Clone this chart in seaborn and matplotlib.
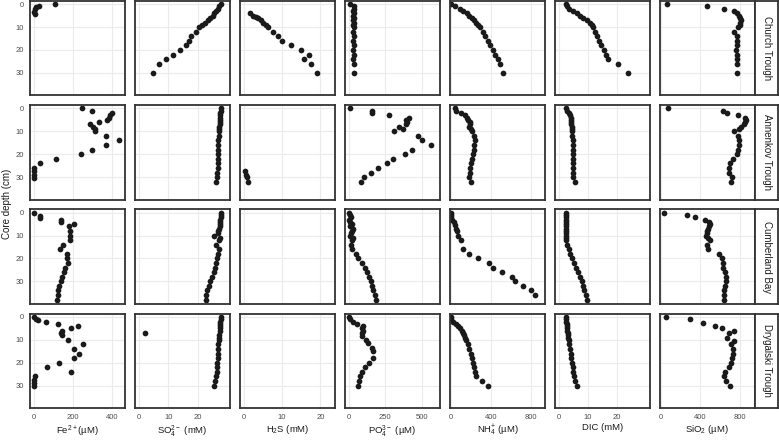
import pandas as pd
import seaborn as sns
import matplotlib.pyplot as plt

sns.set_theme(style='white')
plt.rcParams['font.family'] = ['Liberation Sans', 'DejaVu Sans']
plt.rcParams['mathtext.default'] = 'regular'

# Facet layout
sites = ['Church Trough', 'Annenkov Trough', 'Cumberland Bay', 'Drygalski Trough']
variables = ['Fe', 'SO4', 'H2S', 'PO4', 'NH4', 'DIC', 'SiO2']
x_labels = [r'Fe$^{2+}$(µM)', r'SO$_4^{2-}$ (mM)', r'H$_2$S (mM)', r'PO$_4^{3-}$ (µM)',
            r'NH$_4^{+}$ (µM)', 'DIC (mM)', r'SiO$_2$ (µM)']
x_ticks = [[0, 200, 400], [0, 10, 20], [0, 10, 20], [0, 250, 500],
           [0, 400, 800], [0, 10, 20], [0, 400, 800]]
x_limits = [(-21, 470), (-1.25, 30.9), (-1.05, 23.9), (-27, 625),
            (-11, 938), (-1.5, 31.5), (-10, 955)]

# Church Trough
ct_fe_depth = [0, 0.7, 1.3, 2.2, 3.2, 4.2]
ct_fe = [110, 25, 12, 3, 2, 4]
ct_depth = [0, 1, 2, 3, 4, 5, 6, 7, 8, 9, 10, 12, 14, 16, 18, 20, 22, 24, 26, 30]
ct_so4 = [27.6, 27.1, 26.6, 26.0, 25.4, 24.9, 24.2, 23.4, 22.5, 21.4, 20.3, 19.2,
          17.7, 16.9, 15.9, 14.0, 11.5, 9.3, 7.0, 4.9]
ct_h2s_depth = [4, 5, 5.5, 6, 7, 8, 9, 10, 12, 14, 16, 18, 20, 22, 24, 26, 30]
ct_h2s = [1.6, 2.5, 3.1, 3.8, 4.4, 5.1, 5.7, 6.3, 7.6, 8.8, 10.0, 12.4, 14.9, 17.1,
          15.7, 17.6, 19.0]
ct_po4 = [10, 35, 33, 32, 33, 32, 33, 32, 33, 32, 33, 32, 33, 32, 33, 32, 33, 32, 33, 36]
ct_nh4 = [5, 40, 90, 125, 160, 185, 210, 235, 255, 275, 290, 315, 340, 365, 390,
          415, 440, 465, 490, 515]
ct_dic = [2.4, 2.6, 3.3, 4.8, 6.2, 7.3, 8.4, 9.6, 10.6, 11.3, 11.8, 12.6, 13.3, 14.0,
          14.6, 15.5, 16.3, 17.1, 20.5, 24.0]
ct_sio2 = [60, 470, 640, 740, 770, 790, 805, 810, 805, 800, 780, 745, 770, 775, 770,
           765, 768, 770, 768, 775]

# Annenkov Trough
at_fe_depth = [0, 1, 2, 3, 4, 5, 6, 7, 8, 9, 10, 12, 14, 16, 18, 20, 22, 24, 26,
               27.5, 29, 30.2]
at_fe = [249, 297, 400, 392, 385, 377, 335, 289, 305, 312, 314, 371, 439, 371, 297,
         244, 113, 29, 2, 2, 2, 2]
at_depth = [0, 1, 2, 3, 4, 5, 6, 7, 8, 9, 10, 12, 14, 16, 18, 20, 22, 24, 26, 28, 30, 32]
at_so4 = [27.6, 27.6, 27.5, 27.5, 27.4, 27.4, 27.3, 27.3, 27.2, 27.2, 27.1, 27.0,
          26.9, 26.8, 26.8, 26.7, 26.7, 26.6, 26.6, 26.5, 26.4, 26.2]
at_h2s_depth = [27.5, 29, 30, 32]
at_h2s = [0.4, 0.6, 0.8, 1.0]
at_po4 = [10, 157, 160, 273, 410, 390, 400, 393, 343, 373, 307, 473, 500, 560, 433,
          387, 300, 260, 200, 150, 107, 87]
at_nh4 = [40, 50, 105, 140, 165, 175, 190, 190, 180, 200, 215, 230, 240, 235, 230,
          225, 215, 200, 190, 190, 180, 200]
at_dic = [2.4, 2.9, 3.4, 3.7, 4.0, 4.2, 4.2, 4.3, 4.4, 4.4, 4.5, 4.6, 4.7, 4.9, 4.9,
          5.0, 5.0, 5.0, 5.0, 4.9, 5.0, 5.7]
at_sio2 = [75, 635, 675, 785, 850, 860, 850, 840, 815, 790, 740, 785, 790, 790, 785,
           775, 735, 700, 690, 690, 725, 710]

# Cumberland Bay
cb_fe_depth = [0, 1.5, 2.5, 3, 4, 5, 6, 8, 10, 12, 14, 16, 18, 20, 22, 24, 26, 28,
               30, 32, 34, 36, 38]
cb_fe = [0, 29, 32, 140, 140, 203, 178, 186, 186, 186, 149, 135, 169, 169, 177, 160,
         152, 144, 138, 128, 122, 121, 120]
cb_depth = [0, 1, 2, 3, 4, 5, 6, 7, 8, 9, 10, 11, 12, 14, 16, 18, 20, 22, 24, 26, 28,
            30, 32, 34, 36, 38]
cb_so4 = [27.6, 27.6, 27.6, 27.5, 27.5, 27.4, 27.3, 27.1, 26.8, 26.6, 25.4, 27.4,
          27.0, 26.2, 27.0, 26.7, 26.3, 26.0, 25.7, 25.3, 24.8, 24.2, 23.6, 23.1,
          22.8, 22.6]
cb_po4 = [3, 8, 18, 3, 10, 24, 10, 27, 20, 15, 10, 27, 22, 18, 25, 50, 62, 88, 108,
          125, 137, 150, 160, 168, 178, 188]
cb_nh4_depth = [0, 1, 2, 3, 4, 5.5, 7, 8, 10, 12, 16, 18, 20, 22, 24, 26, 28, 30, 32,
                34, 36]
cb_nh4 = [0, 3, 5, 15, 30, 40, 55, 65, 75, 105, 125, 180, 275, 375, 415, 505, 605,
          640, 715, 800, 840]
cb_dic = [2.4, 2.4, 2.4, 2.4, 2.4, 2.4, 2.4, 2.4, 2.4, 2.4, 2.4, 2.5, 2.5, 2.9, 3.3,
          3.9, 4.5, 5.3, 5.9, 6.6, 7.4, 7.9, 8.4, 8.8, 9.2, 9.6]
cb_sio2 = [35, 265, 350, 450, 490, 500, 490, 475, 470, 465, 460, 480, 500, 470, 480,
           590, 620, 628, 635, 655, 662, 660, 652, 645, 640, 640]

# Drygalski Trough
dt_fe_depth = [0, 0.7, 1.5, 2, 3, 4, 5, 6, 7, 8, 10, 12, 14, 16, 18, 20, 22, 24, 26,
               27.5, 29, 30.3]
dt_fe = [0, 12, 20, 62, 125, 225, 192, 145, 137, 145, 175, 250, 205, 230, 207, 130,
         67, 192, 7, 0, 0, 0]
dt_depth = [0, 1, 2, 3, 4, 5, 6, 7, 8, 9, 10, 12, 14, 16, 18, 20, 22, 24, 26, 28, 30]
dt_so4 = [27.6, 27.6, 27.5, 27.5, 27.4, 27.4, 27.3, 2.1, 27.2, 27.1, 27.0, 26.9,
          26.8, 26.7, 26.6, 26.5, 26.4, 26.3, 26.1, 25.8, 25.4]
dt_po4_depth = [0, 1, 2, 3, 4, 5, 6, 7, 8.5, 10, 11.5, 13.5, 15, 18, 20, 22, 24, 26,
                28, 30]
dt_po4 = [0, 10, 27, 57, 100, 93, 100, 93, 90, 117, 133, 157, 167, 167, 140, 110, 90,
          77, 67, 60]
dt_nh4 = [0, 5, 25, 50, 75, 95, 112, 125, 133, 140, 150, 170, 185, 202, 212, 222,
          235, 240, 250, 310, 365]
dt_dic = [2.4, 2.4, 2.5, 2.6, 2.7, 2.8, 2.9, 3.0, 3.1, 3.2, 3.4, 3.6, 3.9, 4.1, 4.3,
          4.5, 4.8, 5.0, 5.1, 5.4, 6.2]
dt_sio2_depth = [0, 1, 2.5, 4, 5, 6, 7, 9, 10.5, 12, 14, 16, 18, 20, 22, 24, 26, 28, 30]
dt_sio2 = [55, 295, 425, 550, 626, 741, 696, 675, 745, 710, 730, 735, 725, 715, 690,
           652, 642, 662, 700]

records = []


def add(site, var, depth, values):
    for d, v in zip(depth, values):
        records.append((site, var, d, v))


add('Church Trough', 'Fe', ct_fe_depth, ct_fe)
add('Church Trough', 'SO4', ct_depth, ct_so4)
add('Church Trough', 'H2S', ct_h2s_depth, ct_h2s)
add('Church Trough', 'PO4', ct_depth, ct_po4)
add('Church Trough', 'NH4', ct_depth, ct_nh4)
add('Church Trough', 'DIC', ct_depth, ct_dic)
add('Church Trough', 'SiO2', ct_depth, ct_sio2)

add('Annenkov Trough', 'Fe', at_fe_depth, at_fe)
add('Annenkov Trough', 'SO4', at_depth, at_so4)
add('Annenkov Trough', 'H2S', at_h2s_depth, at_h2s)
add('Annenkov Trough', 'PO4', at_depth, at_po4)
add('Annenkov Trough', 'NH4', at_depth, at_nh4)
add('Annenkov Trough', 'DIC', at_depth, at_dic)
add('Annenkov Trough', 'SiO2', at_depth, at_sio2)

add('Cumberland Bay', 'Fe', cb_fe_depth, cb_fe)
add('Cumberland Bay', 'SO4', cb_depth, cb_so4)
add('Cumberland Bay', 'PO4', cb_depth, cb_po4)
add('Cumberland Bay', 'NH4', cb_nh4_depth, cb_nh4)
add('Cumberland Bay', 'DIC', cb_depth, cb_dic)
add('Cumberland Bay', 'SiO2', cb_depth, cb_sio2)

add('Drygalski Trough', 'Fe', dt_fe_depth, dt_fe)
add('Drygalski Trough', 'SO4', dt_depth, dt_so4)
add('Drygalski Trough', 'PO4', dt_po4_depth, dt_po4)
add('Drygalski Trough', 'NH4', dt_depth, dt_nh4)
add('Drygalski Trough', 'DIC', dt_depth, dt_dic)
add('Drygalski Trough', 'SiO2', dt_sio2_depth, dt_sio2)

df = pd.DataFrame(records, columns=['site', 'variable', 'depth', 'value'])

border = '#333333'
g = sns.FacetGrid(df, row='site', col='variable', row_order=sites, col_order=variables,
                  sharex='col', sharey=True, despine=False, height=1.1, aspect=1)
g.map_dataframe(sns.scatterplot, x='value', y='depth', color='#1a1a1a', s=17,
                linewidth=0)

fig = g.figure
fig.set_size_inches(7.79, 4.40)
fig.subplots_adjust(left=30 / 779, right=755 / 779, bottom=1 - 408 / 440,
                    top=1 - 1 / 440, wspace=0.1, hspace=0.106)

n_rows, n_cols = g.axes.shape
for i in range(n_rows):
    for j in range(n_cols):
        ax = g.axes[i, j]
        ax.set_title('')
        ax.set_xlabel('')
        ax.set_ylabel('')
        ax.set_xlim(x_limits[j])
        ax.set_xticks(x_ticks[j])
        ax.set_ylim(39.8, -1.4)
        ax.set_yticks([0, 10, 20, 30])
        ax.grid(True, color='#EBEBEB', linewidth=0.8)
        ax.set_axisbelow(True)
        for sp in ax.spines.values():
            sp.set_color(border)
            sp.set_linewidth(1.3)
        ax.tick_params(axis='both', labelsize=5.5, labelcolor='#4D4D4D', color=border,
                       width=0.6, length=2.5, pad=2)
        if i < n_rows - 1:
            ax.tick_params(axis='x', length=0)
        if j > 0:
            ax.tick_params(axis='y', length=0)

for j, lab in enumerate(x_labels):
    g.axes[-1, j].set_xlabel(lab, fontsize=6.8, color='#1a1a1a', labelpad=1.5)

# Row strips on the right
for i, site in enumerate(sites):
    pos = g.axes[i, -1].get_position()
    sax = fig.add_axes([pos.x1, pos.y0, 23 / 779, pos.height])
    sax.set_xticks([])
    sax.set_yticks([])
    sax.set_facecolor('white')
    for sp in sax.spines.values():
        sp.set_color(border)
        sp.set_linewidth(1.3)
    sax.text(0.5, 0.5, site, rotation=-90, ha='center', va='center', fontsize=7,
             color='#1a1a1a', transform=sax.transAxes)

fig.text(7 / 779, 1 - 204 / 440, 'Core depth (cm)', rotation=90, ha='center',
         va='center', fontsize=7, color='#1a1a1a')

fig.savefig('out.png', dpi=100)
